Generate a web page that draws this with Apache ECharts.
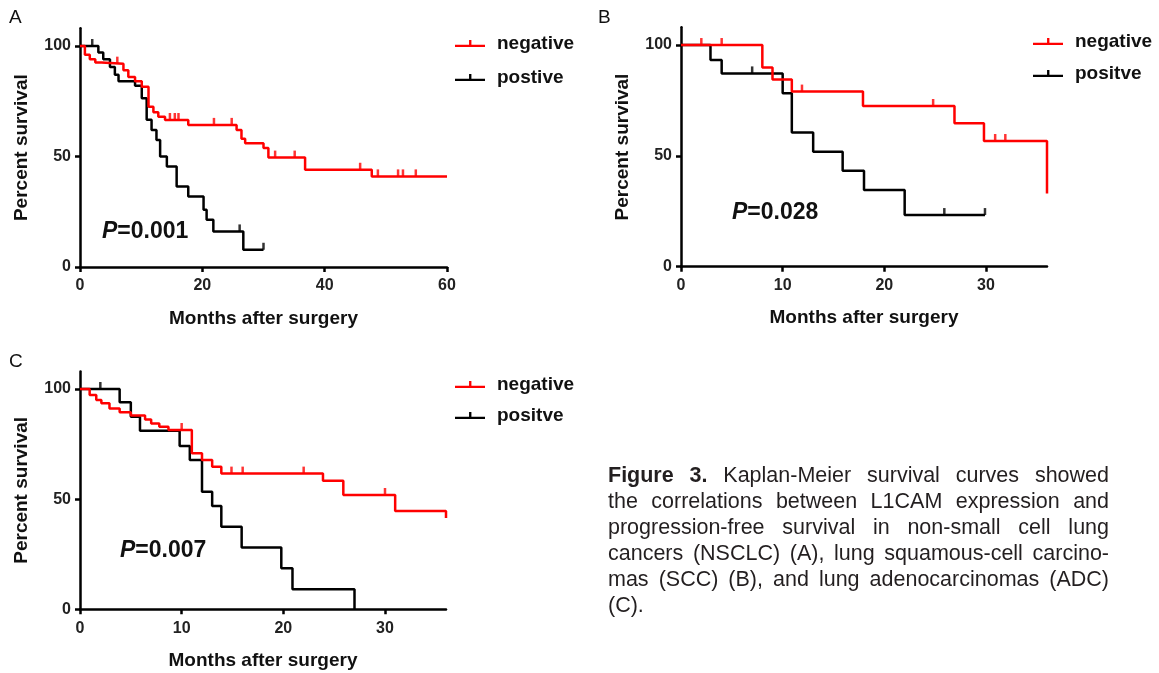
<!DOCTYPE html>
<html>
<head>
<meta charset="utf-8">
<script src="https://cdn.jsdelivr.net/npm/echarts@6/dist/echarts.min.js"></script>
<style>
  html, body { margin: 0; padding: 0; background: #fff; }
  #main { width: 1159px; height: 673px; }
</style>
</head>
<body>
<div id="main"></div>
<script>
// panel A - NSCLC
var aNegT = [0, 0.8, 1.6, 2.5, 3.5, 7.1, 7.9, 9.0, 10.1, 11.2, 12.0, 12.8, 13.9, 17.7, 25.6, 26.4, 27.0, 30.0, 30.8, 36.8, 47.7, 60];
var aNegS = [100, 96, 94, 92.5, 92, 89, 86, 84, 81.5, 72.5, 70, 68, 66.5, 64.3, 62, 58, 56, 53.8, 49.5, 44, 41, 41];
var aNegCens = [6.1, 14.7, 15.5, 16.1, 21.9, 24.8, 31.9, 35.1, 45.8, 48.7, 52, 52.8, 54.9];
var aPosT = [0, 3.0, 3.8, 4.9, 5.7, 6.3, 9.0, 10.1, 10.9, 11.7, 12.5, 13.1, 14.2, 15.8, 17.7, 20.2, 20.7, 21.8, 26.7, 30];
var aPosS = [100, 97, 94, 90.5, 87, 84, 82, 76.4, 66.6, 62, 57.5, 50, 45.5, 36.4, 31.9, 25.9, 21.4, 16.1, 7.8, 7.8];
var aPosCens = [2, 26.1, 30];

// panel B - SCC
var bNegT = [0, 8, 9, 10.9, 17.9, 26.9, 29.8, 36];
var bNegS = [100, 89.9, 84.5, 79, 72.5, 64.7, 56.7, 33];
var bNegCens = [2, 4, 11.9, 24.8, 30.9, 31.9];
var bPosT = [0, 2.9, 4, 10, 10.9, 13, 15.9, 18, 22, 29.9];
var bPosS = [100, 93.2, 87.2, 78.2, 60.5, 51.9, 43.3, 34.6, 23.3, 23.3];
var bPosCens = [7, 25.9, 29.9];

// panel C - ADC
var cNegT = [0, 0.95, 1.6, 2.1, 2.9, 3.9, 5.0, 6.4, 7.0, 7.8, 8.7, 11.0, 12.0, 13.0, 13.9, 23.9, 25.9, 31.0, 36];
var cNegS = [100, 97.3, 95, 93.5, 91.2, 89.5, 88, 86.2, 84.4, 82.9, 81.4, 70.8, 67.8, 64.7, 61.6, 58.4, 51.9, 44.6, 41.5];
var cNegCens = [10, 14.9, 16, 22, 30];
var cPosT = [0, 3.9, 5.0, 5.9, 9.8, 10.8, 12.0, 13.0, 13.9, 15.9, 19.8, 20.9, 27];
var cPosS = [100, 94, 87.4, 81.1, 74.1, 67.8, 53.4, 46.9, 37.5, 28.1, 18.6, 9.1, 0];
var cPosCens = [2];

var yTicks = [0, 50, 100];
var xTicksA = [0, 20, 40, 60];
var xTicksBC = [0, 10, 20, 30];
var pTexts = ['0.001', '0.028', '0.007'];

var captionLines = [
  'Figure 3. Kaplan-Meier survival curves showed',
  'the correlations between L1CAM expression and',
  'progression-free survival in non-small cell lung',
  'cancers (NSCLC) (A), lung squamous-cell carcino-',
  'mas (SCC) (B), and lung adenocarcinomas (ADC)',
  '(C).'
];

var RED = '#ff0000';
var BLACK = '#000000';
var FONT = '"Liberation Sans", Arial, sans-serif';

function survAt(ts, ss, t) {
  var v = ss[0];
  for (var i = 0; i < ts.length; i++) {
    if (ts[i] <= t) v = ss[i];
  }
  return v;
}

function km(name, ts, ss, color, idx) {
  return {
    name: name,
    type: 'line',
    step: 'end',
    xAxisIndex: idx,
    yAxisIndex: idx,
    data: ts.map(function (t, i) { return [t, ss[i]]; }),
    showSymbol: false,
    symbol: 'none',
    lineStyle: { color: color, width: 2.5 },
    itemStyle: { color: color },
    silent: true
  };
}

function cens(ts, ss, cs, color, idx) {
  return {
    type: 'scatter',
    xAxisIndex: idx,
    yAxisIndex: idx,
    data: cs.map(function (t) { return [t, survAt(ts, ss, t)]; }),
    symbol: 'rect',
    symbolSize: [2.5, 7],
    symbolOffset: [0, -3.5],
    itemStyle: { color: color },
    silent: true,
    z: 3
  };
}

function xAxis(idx, max, ticks) {
  return {
    gridIndex: idx,
    type: 'value',
    min: 0,
    max: max,
    name: 'Months after surgery',
    nameLocation: 'middle',
    nameGap: 42,
    nameTextStyle: { fontFamily: FONT, fontWeight: 'bold', fontSize: 19, color: '#111' },
    axisLine: { lineStyle: { color: '#000', width: 2.5 } },
    axisTick: { length: 5, customValues: ticks, lineStyle: { color: '#000', width: 2.5 } },
    axisLabel: { customValues: ticks, margin: 11, fontFamily: FONT, fontWeight: 'bold', fontSize: 16, color: '#222' },
    splitLine: { show: false }
  };
}

function yAxis(idx) {
  return {
    gridIndex: idx,
    type: 'value',
    min: 0,
    max: 108,
    name: 'Percent survival',
    nameLocation: 'middle',
    nameGap: 49,
    nameTextStyle: { fontFamily: FONT, fontWeight: 'bold', fontSize: 19, color: '#111' },
    axisLine: { show: true, lineStyle: { color: '#000', width: 2.5 } },
    axisTick: { show: true, length: 5, customValues: yTicks, lineStyle: { color: '#000', width: 2.5 } },
    axisLabel: { customValues: yTicks, margin: 9, fontFamily: FONT, fontWeight: 'bold', fontSize: 16, color: '#222' },
    splitLine: { show: false }
  };
}

var legendIcon = 'path://M0,6h32v2.5h-32z M15,1h2.5v6h-2.5z';

function legend(left, top, gap, names) {
  return {
    left: left,
    top: top,
    orient: 'vertical',
    itemGap: gap,
    itemWidth: 30,
    itemHeight: 10,
    selectedMode: false,
    textStyle: { fontFamily: FONT, fontWeight: 'bold', fontSize: 19, color: '#111', padding: [0, 0, 0, 7] },
    data: names.map(function (n) { return { name: n, icon: legendIcon }; })
  };
}

var graphics = [];
function label(text, x, y) {
  graphics.push({ type: 'text', x: x, y: y, style: { text: text, font: '19px ' + FONT, fill: '#111', verticalAlign: 'middle' } });
}
function pLabel(val, x, y) {
  graphics.push({
    type: 'text', x: x, y: y,
    style: {
      text: '{i|P}{n|=' + val + '}',
      verticalAlign: 'middle',
      rich: {
        i: { fontFamily: FONT, fontWeight: 'bold', fontStyle: 'italic', fontSize: 23, fill: '#111' },
        n: { fontFamily: FONT, fontWeight: 'bold', fontSize: 23, fill: '#111' }
      }
    }
  });
}
label('A', 9, 18);
label('B', 598, 18);
label('C', 9, 362);
pLabel(pTexts[0], 102, 232);
pLabel(pTexts[1], 732, 213);
pLabel(pTexts[2], 120, 551);

// caption, justified word by word
var ctx = document.createElement('canvas').getContext('2d');
var capX = 608, capW = 501, capY = 476, capLH = 26, capSize = 21.5;
captionLines.forEach(function (line, li) {
  var words = line.split(' ');
  var fonts = words.map(function (w, wi) {
    return ((li === 0 && wi < 2) ? 'bold ' : '') + capSize + 'px ' + FONT;
  });
  var widths = words.map(function (w, wi) { ctx.font = fonts[wi]; return ctx.measureText(w).width; });
  var sum = widths.reduce(function (a, b) { return a + b; }, 0);
  ctx.font = capSize + 'px ' + FONT;
  var gap = (li < captionLines.length - 1 && words.length > 1) ? (capW - sum) / (words.length - 1) : ctx.measureText(' ').width;
  var x = capX;
  words.forEach(function (w, wi) {
    graphics.push({ type: 'text', x: x, y: capY + li * capLH, style: { text: w, font: fonts[wi], fill: '#231f20', verticalAlign: 'middle' } });
    x += widths[wi] + gap;
  });
});

var chart = echarts.init(document.getElementById('main'));
chart.setOption({
  backgroundColor: '#fff',
  animation: false,
  grid: [
    { left: 80, top: 28.3, width: 367, height: 238.7 },
    { left: 681, top: 27.3, width: 366, height: 239.4 },
    { left: 80, top: 371.4, width: 366, height: 237.9 }
  ],
  xAxis: [xAxis(0, 60, xTicksA), xAxis(1, 36, xTicksBC), xAxis(2, 36, xTicksBC)],
  yAxis: [yAxis(0), yAxis(1), yAxis(2)],
  legend: [
    legend(450, 29, 15, ['negative', 'postive']),
    legend(1028, 27, 13, ['negative', 'positve']),
    legend(450, 370, 12, ['negative', 'positve'])
  ],
  graphic: graphics,
  series: [
    km('postive', aPosT, aPosS, BLACK, 0),
    km('negative', aNegT, aNegS, RED, 0),
    cens(aPosT, aPosS, aPosCens, BLACK, 0),
    cens(aNegT, aNegS, aNegCens, RED, 0),
    km('positve', bPosT, bPosS, BLACK, 1),
    km('negative', bNegT, bNegS, RED, 1),
    cens(bPosT, bPosS, bPosCens, BLACK, 1),
    cens(bNegT, bNegS, bNegCens, RED, 1),
    km('positve', cPosT, cPosS, BLACK, 2),
    km('negative', cNegT, cNegS, RED, 2),
    cens(cPosT, cPosS, cPosCens, BLACK, 2),
    cens(cNegT, cNegS, cNegCens, RED, 2)
  ]
});
</script>
</body>
</html>
